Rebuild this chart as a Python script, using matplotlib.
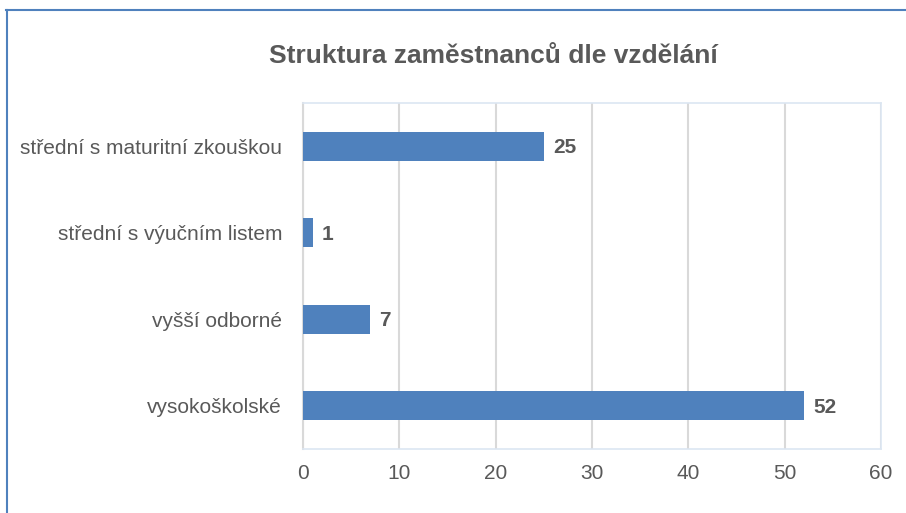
import matplotlib
matplotlib.use("Agg")
import matplotlib.pyplot as plt
from matplotlib.lines import Line2D

categories = ["vysokoškolské", "vyšší odborné", "střední s výučním listem", "střední s maturitní zkouškou"]
values = [52, 7, 1, 25]
xticks = [0, 10, 20, 30, 40, 50, 60]
title = "Struktura zaměstnanců dle vzdělání"

plt.rcParams['font.family'] = ['Liberation Sans', 'DejaVu Sans']
TXT = "#595959"
BAR = "#4F81BD"

fig = plt.figure(figsize=(9.06, 5.13), dpi=100)
ax = fig.add_axes([303/906, 1-449/513, (881-303)/906, (449-103)/513])

y = list(range(len(categories)))
ax.barh(y, values, height=0.34, color=BAR, zorder=3)
for yi, v in zip(y, values):
    ax.annotate(str(v), (v, yi), xytext=(6.5, -1), textcoords="offset points",
                ha="left", va="center", fontsize=15, fontweight="bold", color=TXT)

ax.set_xlim(0, 60)
ax.set_ylim(-0.5, len(categories) - 0.5)
ax.set_xticks(xticks)
ax.set_xticklabels([str(t) for t in xticks])
ax.set_yticks(y)
ax.set_yticklabels(categories)
ax.tick_params(axis="both", length=0, labelsize=15, labelcolor=TXT)
ax.tick_params(axis="x", pad=11)
ax.tick_params(axis="y", pad=15)
ax.grid(axis="x", color="#D9D9D9", linewidth=1.5, zorder=0)
for s in ax.spines.values():
    s.set_color("#DCE6F2")
    s.set_linewidth(1.2)
ax.spines["left"].set_color("#D9D9D9")
ax.spines["left"].set_linewidth(1.5)

fig.text(493/906, 1-56/513, title, ha="center", va="center", fontsize=19,
         fontweight="bold", color=TXT)

fig.add_artist(Line2D([6/906, 1], [1-10/513, 1-10/513], transform=fig.transFigure,
                      color=BAR, linewidth=1.5))
fig.add_artist(Line2D([7/906, 7/906], [0, 1-10/513], transform=fig.transFigure,
                      color=BAR, linewidth=1.5))

fig.savefig("out.png", dpi=100)
